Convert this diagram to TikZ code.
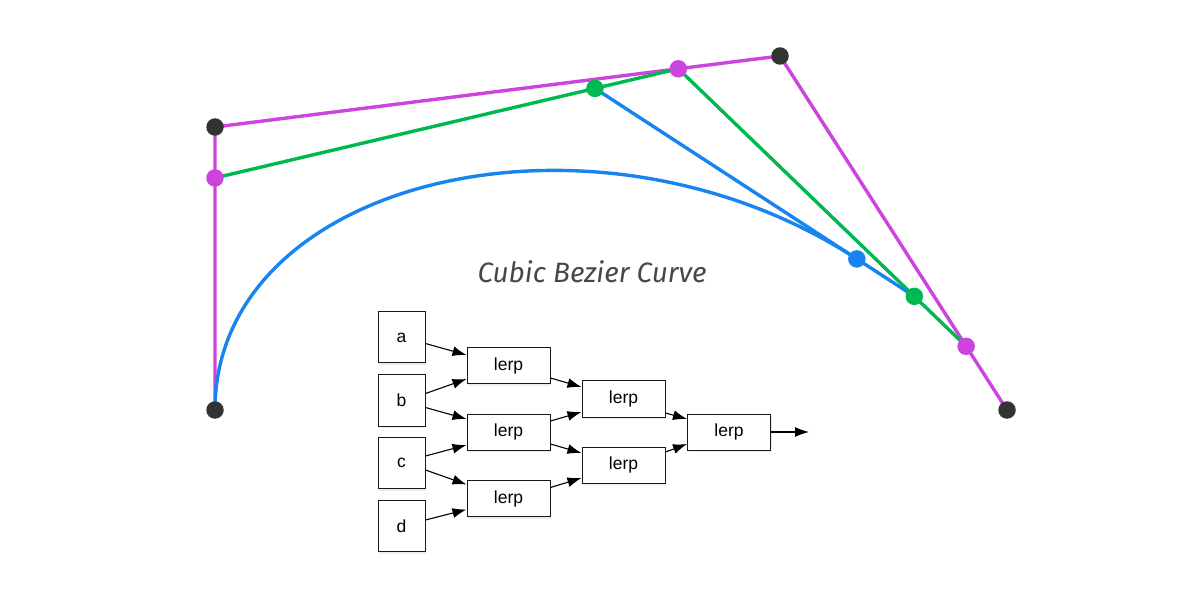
\documentclass[tikz,border=0pt]{standalone}
\usepackage{fontspec}
\setmainfont{Liberation Sans}
\newfontfamily\titrefont{Fira Sans}
\usetikzlibrary{calc,arrows.meta,shadows}

\definecolor{rose}{HTML}{CC44DD}
\definecolor{vert}{HTML}{00B850}
\definecolor{bleu}{HTML}{1884F0}
\definecolor{gris}{HTML}{333333}

\begin{document}
\begin{tikzpicture}[x=1pt, y=-1pt]
	\tikzset{pastille/.style={circle, fill=#1, inner sep=0pt, minimum size=17.5pt},
		trait/.style={line width=3.4pt, #1},
		boite/.style={draw=black!90, line width=1pt, fill=white, inner sep=0pt, minimum width=83pt, minimum height=36pt,
			font=\fontsize{17.5}{20}\selectfont, drop shadow={shadow xshift=1pt, shadow yshift=-2pt, opacity=0.15}},
		lettre/.style={boite, minimum width=47pt, minimum height=51pt},
		fleche/.style={>={Latex[length=14pt, width=10pt]}, ->, line width=1.1pt},
		titre/.style={font=\titrefont\itshape\fontsize{28}{32}\selectfont, text=gris!90}};

	\useasboundingbox (0,0) rectangle (1192,612);

	% points de controle et interpolations
	\coordinate (p0) at (215,410);
	\coordinate (p1) at (215,127);
	\coordinate (p2) at (780,56);
	\coordinate (p3) at (1007,410);
	\coordinate (q0) at ($(p0)!0.82!(p1)$);
	\coordinate (q1) at ($(p1)!0.82!(p2)$);
	\coordinate (q2) at ($(p2)!0.82!(p3)$);
	\coordinate (r0) at ($(q0)!0.82!(q1)$);
	\coordinate (r1) at ($(q1)!0.82!(q2)$);
	\coordinate (s)  at ($(r0)!0.82!(r1)$);

	\draw[trait=rose] (p0) -- (p1) -- (p2) -- (p3);
	\draw[trait=vert] (q0) -- (q1) -- (q2);
	\draw[trait=bleu] (r0) -- (r1);
	\draw[trait=bleu] (p0) .. controls (q0) and (r0) .. (s);

	\node[pastille=gris] (np0) at (p0) {};
	\node[pastille=gris] (np1) at (p1) {};
	\node[pastille=gris] (np2) at (p2) {};
	\node[pastille=gris] (np3) at (p3) {};
	\node[pastille=rose] (nq0) at (q0) {};
	\node[pastille=rose] (nq1) at (q1) {};
	\node[pastille=rose] (nq2) at (q2) {};
	\node[pastille=vert] (nr0) at (r0) {};
	\node[pastille=vert] (nr1) at (r1) {};
	\node[pastille=bleu] (ns)  at (s)  {};

	\node[titre] (titre) at (592,272) {Cubic Bezier Curve};

	% schema des lerp
	\node[lettre] (a) at (401.5,337.5) {a};
	\node[lettre] (b) at (401.5,400.5) {b};
	\node[lettre] (c) at (401.5,463)   {c};
	\node[lettre] (d) at (401.5,526)   {d};

	\node[boite] (l1a) at (508.5,366)   {lerp};
	\node[boite] (l1b) at (508.5,432)   {lerp};
	\node[boite] (l1c) at (508.5,498.5) {lerp};
	\node[boite] (l2a) at (623.5,399)   {lerp};
	\node[boite] (l2b) at (623.5,465)   {lerp};
	\node[boite] (l3)  at (729,432)     {lerp};
	\coordinate (sortie) at (809,432);

	\draw[fleche] ($(a.east)+(0,6)$)    -- ($(l1a.west)+(0,-11)$);
	\draw[fleche] ($(b.east)+(0,-7)$)   -- ($(l1a.west)+(0,13)$);
	\draw[fleche] ($(b.east)+(0,7)$)    -- ($(l1b.west)+(0,-13)$);
	\draw[fleche] ($(c.east)+(0,-7)$)   -- ($(l1b.west)+(0,13)$);
	\draw[fleche] ($(c.east)+(0,7)$)    -- ($(l1c.west)+(0,-14)$);
	\draw[fleche] ($(d.east)+(0,-6)$)   -- ($(l1c.west)+(0,11)$);
	\draw[fleche] ($(l1a.east)+(0,12)$) -- ($(l2a.west)+(0,-12)$);
	\draw[fleche] ($(l1b.east)+(0,-11)$) -- ($(l2a.west)+(0,13)$);
	\draw[fleche] ($(l1b.east)+(0,12)$) -- ($(l2b.west)+(0,-12)$);
	\draw[fleche] ($(l1c.east)+(0,-11)$) -- ($(l2b.west)+(0,13)$);
	\draw[fleche] ($(l2a.east)+(0,14)$) -- ($(l3.west)+(0,-13)$);
	\draw[fleche] ($(l2b.east)+(0,-13)$) -- ($(l3.west)+(0,12)$);
	\draw[fleche] (l3.east) -- (sortie);

\end{tikzpicture}
\end{document}
